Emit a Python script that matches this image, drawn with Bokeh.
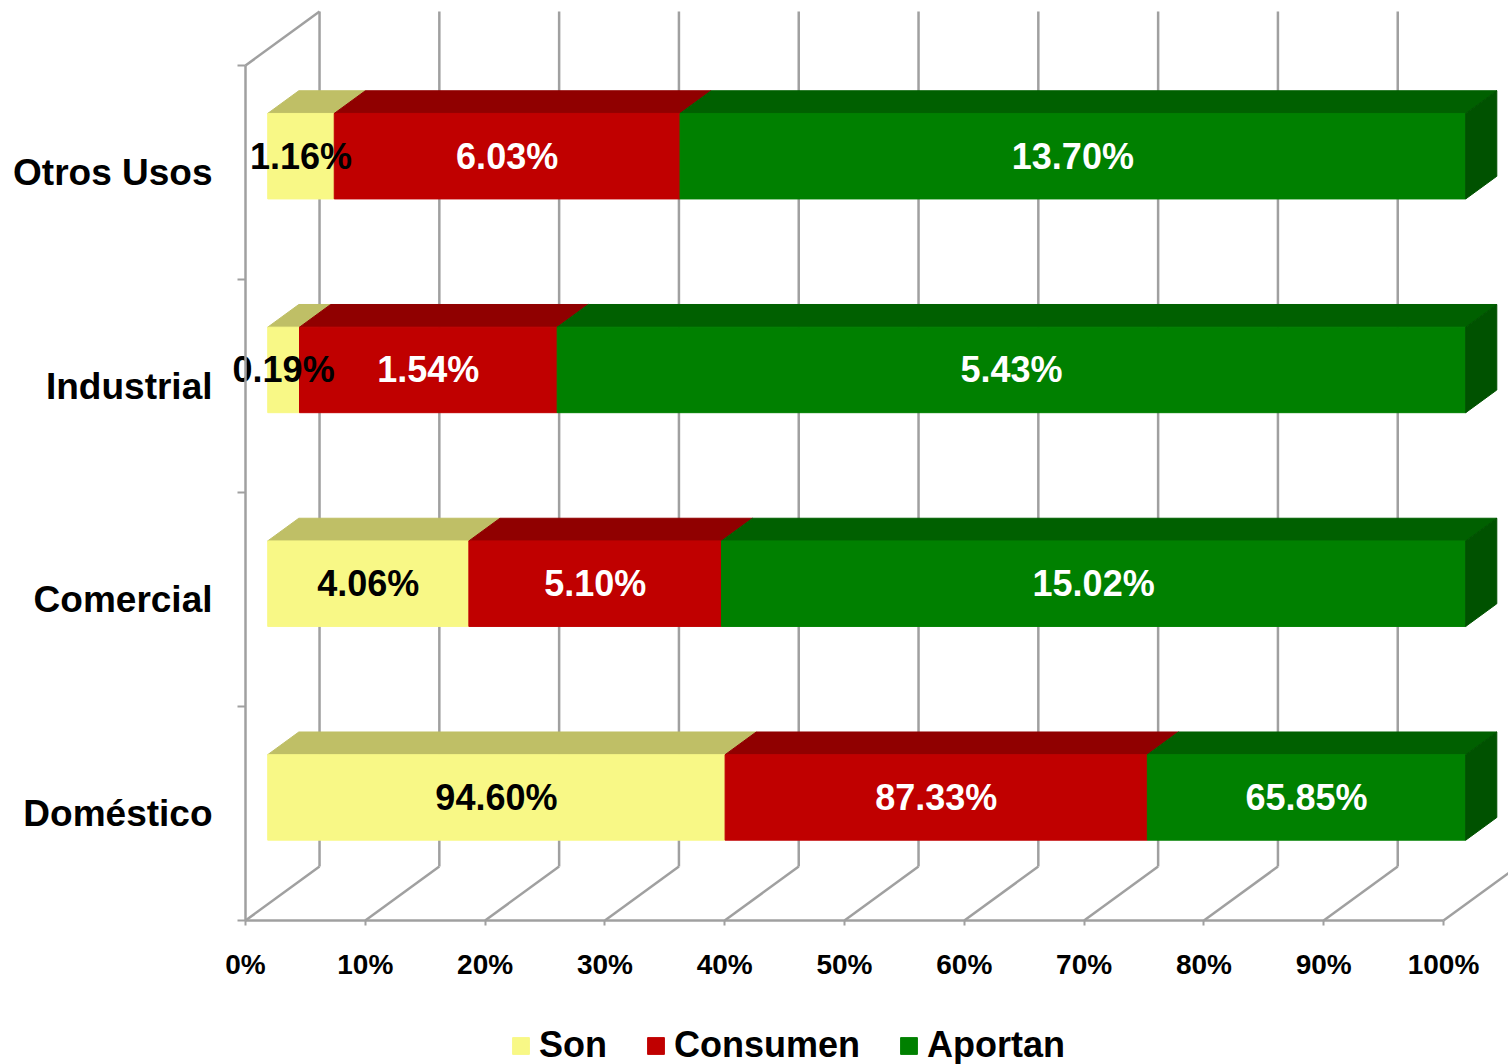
from bokeh.plotting import figure
from bokeh.models import Range1d, FixedTicker, Legend, LegendItem, ColumnDataSource
from bokeh.core.properties import value
from bokeh.embed import file_html
from bokeh.resources import INLINE

# ---- data ----
categories = ["Doméstico", "Comercial", "Industrial", "Otros Usos"]
series_names = ["Son", "Consumen", "Aportan"]
son = [94.60, 4.06, 0.19, 1.16]
consumen = [87.33, 5.10, 1.54, 6.03]
aportan = [65.85, 15.02, 5.43, 13.70]
tick_labels = ["0%", "10%", "20%", "30%", "40%", "50%", "60%", "70%", "80%", "90%", "100%"]

# ---- styles ----
front_colors = ["#F8F886", "#C00000", "#008000"]
top_colors = ["#BFBF66", "#900000", "#006000"]
side_color = "#005200"
label_colors = ["#000000", "#FFFFFF", "#FFFFFF"]
grid_color = "#A0A0A0"
FONT_NAME = "Liberation Sans"
FONT = value(FONT_NAME)

# 3D projection (data units): offset of the back wall relative to the front plane
DX, DY = 6.18, 0.2526
D_FRONT, D_BACK = 0.30, 0.72
BAR_H = 0.40

values = [son, consumen, aportan]
ticks = [float(t.rstrip("%")) for t in tick_labels]
n_cat = len(categories)

p = figure(width=1508, height=1064,
           x_range=Range1d(-20.451, 105.426), y_range=Range1d(-0.6737, 4.3041),
           output_backend="svg", toolbar_location=None,
           min_border_left=0, min_border_right=0, min_border_top=0, min_border_bottom=0)
p.outline_line_color = None
p.grid.visible = False
p.background_fill_color = "white"

# ---- walls / gridlines ----
gx = [t + DX for t in ticks]
p.segment(x0=gx, y0=[DY] * len(ticks), x1=gx, y1=[n_cat + DY] * len(ticks),
          line_color=grid_color, line_width=2.5)
p.segment(x0=ticks, y0=[0] * len(ticks), x1=gx, y1=[DY] * len(ticks),
          line_color=grid_color, line_width=2.5)
p.segment(x0=[ticks[0]], y0=[n_cat], x1=[ticks[0] + DX], y1=[n_cat + DY],
          line_color=grid_color, line_width=2.5)

# ---- bars ----
fx, fy = D_FRONT * DX, D_FRONT * DY
bx, by = D_BACK * DX, D_BACK * DY
totals = [sum(v[i] for v in values) for i in range(n_cat)]
cum = [0.0] * n_cat
front_renderers = []
label_specs = []
for s, vals in enumerate(values):
    left, right, bottom, top, xs, ys, lx, ly, txt = [], [], [], [], [], [], [], [], []
    for i in range(n_cat):
        w = vals[i] / totals[i] * 100
        x0, x1 = cum[i], cum[i] + w
        cum[i] = x1
        yc = i + 0.5
        yb, yt = yc - BAR_H / 2 + fy, yc + BAR_H / 2 + fy
        left.append(x0 + fx); right.append(x1 + fx)
        bottom.append(yb); top.append(yt)
        xs.append([x0 + fx, x1 + fx, x1 + bx, x0 + bx])
        ys.append([yt, yt, yt - fy + by, yt - fy + by])
        lx.append((x0 + x1) / 2 + fx); ly.append(yc + fy)
        txt.append(f"{vals[i]:.2f}%")
    src = ColumnDataSource(dict(left=left, right=right, bottom=bottom, top=top, xs=xs, ys=ys))
    p.patches(xs="xs", ys="ys", source=src, fill_color=top_colors[s], line_color=top_colors[s], line_width=1)
    r = p.quad(left="left", right="right", bottom="bottom", top="top", source=src,
               fill_color=front_colors[s], line_color=front_colors[s], line_width=1)
    front_renderers.append(r)
    if s == len(values) - 1:
        sxs = [[rr, rr, rr - fx + bx, rr - fx + bx] for rr in right]
        sys_ = [[b, t, t - fy + by, b - fy + by] for b, t in zip(bottom, top)]
        p.patches(xs=sxs, ys=sys_, fill_color=side_color, line_color=side_color, line_width=1)
    label_specs.append((lx, ly, txt, label_colors[s]))

for lx, ly, txt, col in label_specs:
    p.text(x=lx, y=ly, text=txt, text_align="center", text_baseline="middle",
           text_font=FONT, text_font_size="36px", text_font_style="bold",
           text_color=col)

# ---- axes ----
xa = p.xaxis[0]
xa.fixed_location = 0
xa.ticker = FixedTicker(ticks=ticks)
xa.major_label_overrides = {t: l for t, l in zip(ticks, tick_labels)}
xa.bounds = (ticks[0], ticks[-1])
xa.axis_line_color = grid_color
xa.axis_line_width = 2.5
xa.major_tick_line_color = grid_color
xa.major_tick_line_width = 2
xa.major_tick_out = 5
xa.major_tick_in = 0
xa.minor_tick_line_color = None
xa.major_label_standoff = 24
xa.major_label_text_font = FONT_NAME
xa.major_label_text_font_size = "28px"
xa.major_label_text_font_style = "bold"
xa.major_label_text_color = "black"

ya = p.yaxis[0]
ya.fixed_location = 0
centers = [i + 0.5 for i in range(n_cat)]
ya.ticker = FixedTicker(ticks=centers, minor_ticks=list(range(n_cat + 1)))
ya.major_label_overrides = {c: l for c, l in zip(centers, categories)}
ya.bounds = (0, n_cat)
ya.axis_line_color = grid_color
ya.axis_line_width = 2.5
ya.major_tick_line_color = None
ya.major_tick_out = 0
ya.major_tick_in = 0
ya.minor_tick_line_color = grid_color
ya.minor_tick_line_width = 2
ya.minor_tick_out = 8
ya.minor_tick_in = 0
ya.major_label_standoff = 25
ya.major_label_orientation = "horizontal"
ya.major_label_text_font = FONT_NAME
ya.major_label_text_font_size = "37px"
ya.major_label_text_font_style = "bold"
ya.major_label_text_color = "black"

# ---- legend ----
legend = Legend(items=[LegendItem(label=n, renderers=[r]) for n, r in zip(series_names, front_renderers)],
                orientation="horizontal", location=(510, -2),
                label_text_font=FONT_NAME, label_text_font_size="36px", label_text_font_style="bold",
                label_text_color="black",
                glyph_width=21, glyph_height=21, spacing=38, label_standoff=8,
                padding=0, margin=0, border_line_color=None, background_fill_alpha=0)
p.add_layout(legend)

open("out.html", "w").write(file_html(p, INLINE))
